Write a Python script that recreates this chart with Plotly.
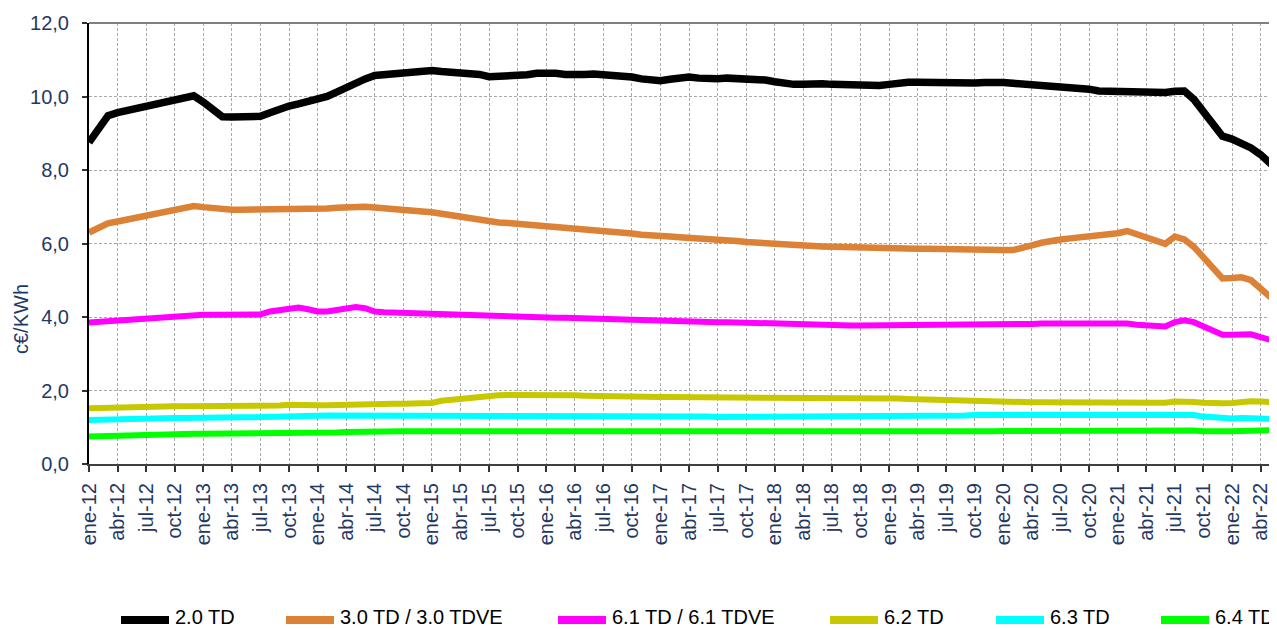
import plotly.graph_objects as go

# ---------------- data (monthly, ene-12 .. jun-22) ----------------
months = ["ene", "feb", "mar", "abr", "may", "jun", "jul", "ago", "sep", "oct", "nov", "dic"]
years = ["12", "13", "14", "15", "16", "17", "18", "19", "20", "21", "22"]
categories = [f"{m}-{y}" for y in years for m in months][:126]

series_names = ["2.0 TD", "3.0 TD / 3.0 TDVE", "6.1 TD / 6.1 TDVE", "6.2 TD", "6.3 TD", "6.4 TD"]
series_colors = ["#000000", "#DC8237", "#FF00FF", "#C8C800", "#00FFFF", "#00FF00"]

td_20 = [8.75, 9.10, 9.48, 9.56, 9.62, 9.67, 9.72, 9.77, 9.83, 9.88, 9.94, 10.02,
         9.85, 9.65, 9.45, 9.44, 9.44, 9.45, 9.46, 9.56, 9.66, 9.74, 9.80, 9.85,
         9.90, 10.00, 10.12, 10.25, 10.37, 10.48, 10.57, 10.60, 10.63, 10.67, 10.70, 10.71,
         10.71, 10.68, 10.67, 10.66, 10.65, 10.60, 10.54, 10.54, 10.54, 10.55, 10.59, 10.63,
         10.65, 10.63, 10.60, 10.58, 10.60, 10.61, 10.60, 10.58, 10.56, 10.53, 10.48, 10.43,
         10.43, 10.47, 10.51, 10.53, 10.50, 10.48, 10.48, 10.50, 10.50, 10.48, 10.47, 10.45,
         10.40, 10.35, 10.33, 10.33, 10.35, 10.35, 10.33, 10.32, 10.30, 10.29, 10.30, 10.30,
         10.33, 10.38, 10.39, 10.39, 10.38, 10.37, 10.37, 10.38, 10.37, 10.37, 10.38, 10.40,
         10.38, 10.36, 10.34, 10.33, 10.32, 10.29, 10.28, 10.27, 10.26, 10.20, 10.15, 10.14,
         10.13, 10.12, 10.10, 10.09, 10.09, 10.11, 10.14, 10.15, 9.92, 9.60, 9.25, 8.92,
         8.84, 8.74, 8.60, 8.42, 8.17, 7.95]

td_30 = [6.30, 6.45, 6.55, 6.60, 6.65, 6.70, 6.75, 6.80, 6.86, 6.91, 6.96, 7.02,
         6.99, 6.96, 6.93, 6.92, 6.92, 6.92, 6.92, 6.92, 6.92, 6.93, 6.93, 6.93,
         6.94, 6.95, 6.97, 6.99, 7.00, 7.00, 6.98, 6.95, 6.92, 6.90, 6.89, 6.87,
         6.85, 6.81, 6.77, 6.73, 6.68, 6.62, 6.59, 6.57, 6.56, 6.54, 6.52, 6.50,
         6.49, 6.47, 6.44, 6.42, 6.40, 6.38, 6.35, 6.32, 6.29, 6.27, 6.24, 6.21,
         6.20, 6.19, 6.17, 6.16, 6.13, 6.11, 6.10, 6.09, 6.07, 6.04, 6.02, 6.00,
         5.98, 5.96, 5.95, 5.94, 5.93, 5.92, 5.91, 5.90, 5.90, 5.89, 5.89, 5.88,
         5.88, 5.87, 5.87, 5.86, 5.86, 5.85, 5.85, 5.84, 5.84, 5.83, 5.82, 5.82,
         5.82, 5.82, 5.87, 5.95, 6.02, 6.08, 6.11, 6.14, 6.16, 6.19, 6.21, 6.24,
         6.28, 6.34, 6.26, 6.16, 6.07, 5.99, 6.19, 6.11, 5.91, 5.62, 5.32, 5.05,
         5.06, 5.08, 5.00, 4.78, 4.55, 4.40]

td_61 = [3.85, 3.87, 3.89, 3.90, 3.91, 3.93, 3.95, 3.97, 3.99, 4.01, 4.03, 4.05,
         4.06, 4.06, 4.06, 4.06, 4.06, 4.06, 4.07, 4.15, 4.19, 4.23, 4.26, 4.21,
         4.15, 4.15, 4.20, 4.25, 4.27, 4.24, 4.15, 4.13, 4.12, 4.11, 4.10, 4.10,
         4.09, 4.08, 4.07, 4.06, 4.06, 4.05, 4.04, 4.03, 4.03, 4.02, 4.01, 4.00,
         3.99, 3.98, 3.98, 3.97, 3.96, 3.95, 3.95, 3.94, 3.93, 3.92, 3.91, 3.90,
         3.90, 3.89, 3.89, 3.88, 3.87, 3.87, 3.86, 3.86, 3.85, 3.84, 3.83, 3.82,
         3.81, 3.81, 3.80, 3.80, 3.79, 3.78, 3.78, 3.78, 3.77, 3.77, 3.77, 3.77,
         3.77, 3.77, 3.77, 3.77, 3.78, 3.78, 3.77, 3.77, 3.77, 3.77, 3.77, 3.77,
         3.78, 3.79, 3.80, 3.81, 3.82, 3.82, 3.83, 3.83, 3.84, 3.84, 3.84, 3.84,
         3.84, 3.82, 3.79, 3.78, 3.78, 3.74, 3.86, 3.91, 3.86, 3.74, 3.62, 3.52,
         3.52, 3.53, 3.53, 3.45, 3.37, 3.31]

td_62 = [1.52, 1.53, 1.54, 1.54, 1.55, 1.55, 1.56, 1.56, 1.56, 1.57, 1.57, 1.57,
         1.57, 1.57, 1.57, 1.57, 1.57, 1.56, 1.56, 1.58, 1.59, 1.61, 1.62, 1.61,
         1.60, 1.60, 1.61, 1.63, 1.64, 1.64, 1.63, 1.63, 1.64, 1.64, 1.64, 1.65,
         1.66, 1.72, 1.75, 1.77, 1.78, 1.82, 1.86, 1.87, 1.88, 1.88, 1.89, 1.91,
         1.90, 1.89, 1.88, 1.87, 1.86, 1.85, 1.85, 1.84, 1.83, 1.83, 1.82, 1.82,
         1.82, 1.82, 1.82, 1.82, 1.82, 1.82, 1.82, 1.82, 1.82, 1.82, 1.82, 1.81,
         1.81, 1.81, 1.81, 1.81, 1.81, 1.81, 1.81, 1.81, 1.81, 1.81, 1.80, 1.80,
         1.79, 1.78, 1.77, 1.76, 1.75, 1.74, 1.73, 1.72, 1.71, 1.70, 1.69, 1.68,
         1.68, 1.68, 1.68, 1.68, 1.68, 1.68, 1.68, 1.67, 1.67, 1.67, 1.67, 1.66,
         1.66, 1.65, 1.65, 1.65, 1.65, 1.67, 1.70, 1.71, 1.69, 1.67, 1.65, 1.65,
         1.66, 1.69, 1.71, 1.70, 1.68, 1.67]

td_63 = [1.20, 1.21, 1.21, 1.22, 1.22, 1.23, 1.23, 1.24, 1.24, 1.25, 1.25, 1.26,
         1.26, 1.26, 1.26, 1.27, 1.27, 1.27, 1.27, 1.28, 1.29, 1.30, 1.31, 1.31,
         1.31, 1.32, 1.32, 1.32, 1.33, 1.33, 1.33, 1.32, 1.31, 1.30, 1.30, 1.30,
         1.30, 1.30, 1.30, 1.30, 1.30, 1.30, 1.30, 1.30, 1.30, 1.30, 1.30, 1.30,
         1.30, 1.30, 1.30, 1.30, 1.30, 1.30, 1.30, 1.31, 1.31, 1.32, 1.32, 1.32,
         1.32, 1.32, 1.31, 1.30, 1.29, 1.29, 1.28, 1.28, 1.28, 1.28, 1.28, 1.28,
         1.28, 1.28, 1.28, 1.29, 1.29, 1.29, 1.30, 1.30, 1.30, 1.30, 1.30, 1.30,
         1.30, 1.30, 1.30, 1.31, 1.31, 1.31, 1.32, 1.32, 1.32, 1.33, 1.33, 1.33,
         1.33, 1.33, 1.33, 1.33, 1.33, 1.33, 1.33, 1.33, 1.33, 1.33, 1.32, 1.32,
         1.32, 1.32, 1.33, 1.33, 1.33, 1.34, 1.35, 1.36, 1.33, 1.29, 1.27, 1.24,
         1.24, 1.25, 1.26, 1.24, 1.22, 1.20]

td_64 = [0.75, 0.76, 0.77, 0.77, 0.78, 0.78, 0.79, 0.80, 0.81, 0.82, 0.82, 0.82,
         0.82, 0.82, 0.82, 0.82, 0.82, 0.82, 0.82, 0.82, 0.82, 0.83, 0.84, 0.84,
         0.85, 0.85, 0.86, 0.87, 0.88, 0.88, 0.89, 0.89, 0.89, 0.89, 0.89, 0.89,
         0.89, 0.89, 0.89, 0.89, 0.89, 0.89, 0.89, 0.89, 0.89, 0.89, 0.89, 0.89,
         0.89, 0.89, 0.89, 0.89, 0.89, 0.89, 0.89, 0.89, 0.89, 0.89, 0.89, 0.88,
         0.88, 0.88, 0.87, 0.87, 0.87, 0.86, 0.86, 0.86, 0.86, 0.86, 0.86, 0.86,
         0.86, 0.86, 0.86, 0.86, 0.86, 0.86, 0.86, 0.86, 0.85, 0.85, 0.86, 0.86,
         0.86, 0.86, 0.87, 0.87, 0.87, 0.87, 0.88, 0.88, 0.88, 0.89, 0.89, 0.89,
         0.90, 0.90, 0.90, 0.90, 0.90, 0.90, 0.90, 0.90, 0.91, 0.91, 0.91, 0.91,
         0.91, 0.91, 0.91, 0.91, 0.92, 0.93, 0.94, 0.94, 0.91, 0.89, 0.88, 0.88,
         0.89, 0.90, 0.91, 0.92, 0.93, 0.93]

series_values = [td_20, td_30, td_61, td_62, td_63, td_64]

tick_labels = categories[::3]
y_ticks = [0, 2, 4, 6, 8, 10, 12]

# ---------------- layout geometry (window pixels) ----------------
WIN_W, WIN_H = 1277, 629
OFF = 8                      # default page body margin
W, H = WIN_W - OFF, WIN_H - OFF
L, T, R, B = 89, 23, 1277, 464   # plot area in window pixels
month_px = 9.525

def px_x(px):
    return (px - L) / (R - L)

def px_y(py):
    return (B - py) / (B - T)

x_idx = list(range(len(categories)))
widths = [7.5, 6.5, 6, 6, 6, 6]

fig = go.Figure()
for name, vals, col, w in zip(series_names, series_values, series_colors, widths):
    fig.add_trace(go.Scatter(
        x=x_idx[:len(vals)], y=vals, mode="lines", name=name,
        line=dict(color=col, width=w, shape="linear"),
        showlegend=False,
    ))

FONT = "Liberation Sans, Arial, sans-serif"
tick_font = dict(family=FONT, size=20, color="#1F3864")

fig.update_layout(
    width=W, height=H,
    margin=dict(l=L - OFF, r=WIN_W - R, t=T - OFF, b=WIN_H - B, pad=0),
    paper_bgcolor="white", plot_bgcolor="white",
    separators=",.",
    xaxis=dict(
        range=[0, (R - L) / month_px],
        tickmode="array",
        tickvals=x_idx[::3],
        ticktext=tick_labels,
        tickangle=-90,
        tickfont=tick_font,
        ticks="outside", ticklen=6, tickwidth=2, tickcolor="#333333",
        ticklabelstandoff=3,
        showline=True, linecolor="#404040", linewidth=2,
        showgrid=True, gridcolor="#A8A8A8", gridwidth=1, griddash="3px,2px",
        zeroline=False,
    ),
    yaxis=dict(
        range=[0, 12],
        tickmode="array",
        tickvals=y_ticks,
        tickformat=".1f",
        tickfont=tick_font,
        ticks="outside", ticklen=5, tickwidth=2, tickcolor="#333333",
        ticklabelstandoff=9,
        showline=True, linecolor="#000000", linewidth=2,
        showgrid=True, gridcolor="#A8A8A8", gridwidth=1, griddash="3px,2px",
        zeroline=False,
    ),
)

shapes = []
annotations = []
# top border of plot area
shapes.append(dict(type="line", xref="paper", yref="paper", x0=0, x1=1, y0=1, y1=1,
                   line=dict(color="#808080", width=2)))

# y-axis title
annotations.append(dict(text="c€/KWh", xref="paper", yref="paper",
                        x=px_x(21), y=px_y(319), textangle=-90, showarrow=False,
                        xanchor="center", yanchor="middle",
                        font=dict(family=FONT, size=20, color="#1F3864")))

# legend (manual, bottom)
legend_starts = [118, 283, 555, 827, 993, 1158]
legend_line_y = 620
legend_text_y = 617
for name, col, x0 in zip(series_names, series_colors, legend_starts):
    shapes.append(dict(type="line", xref="paper", yref="paper",
                       x0=px_x(x0 + 3), x1=px_x(x0 + 51),
                       y0=px_y(legend_line_y), y1=px_y(legend_line_y),
                       line=dict(color=col, width=8)))
    annotations.append(dict(text=name, xref="paper", yref="paper",
                            x=px_x(x0 + 56), y=px_y(legend_text_y), showarrow=False,
                            xanchor="left", yanchor="middle", borderpad=0,
                            font=dict(family=FONT, size=20, color="#000000")))

fig.update_layout(shapes=shapes, annotations=annotations)

fig.write_html("out.html")
